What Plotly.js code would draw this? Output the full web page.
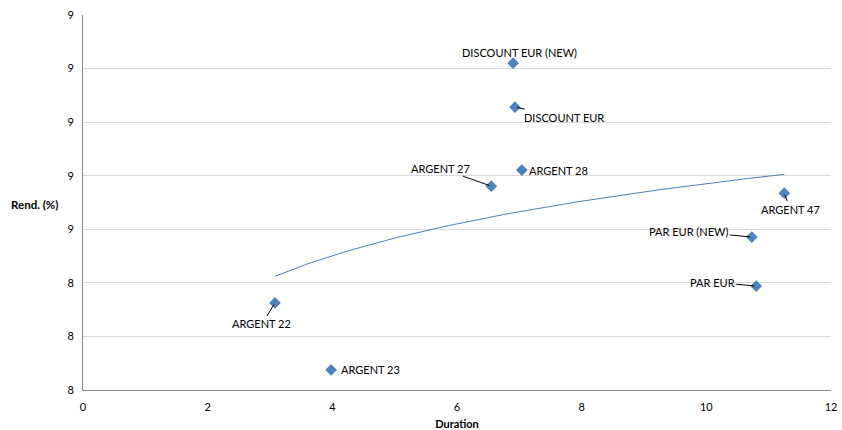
<!DOCTYPE html>
<html>
<head>
<meta charset="utf-8">
<script src="https://cdn.plot.ly/plotly-3.0.1.min.js"></script>
<style>html,body{margin:0;padding:0;background:#fff;}#chart{width:842px;height:430px;}</style>
</head>
<body>
<div id="chart"></div>
<script>
// Data
const names = ["DISCOUNT EUR (NEW)", "DISCOUNT EUR", "ARGENT 28", "ARGENT 27", "ARGENT 47", "PAR EUR (NEW)", "PAR EUR", "ARGENT 22", "ARGENT 23"];
const duration = [6.90, 6.93, 7.04, 6.55, 11.25, 10.73, 10.80, 3.08, 3.98];
const rend = [9.22, 9.056, 8.821, 8.761, 8.735, 8.571, 8.388, 8.325, 8.075];
// label offsets (pixels) and whether a leader line is drawn
const labelDx = [6, 49, 37, -51, 6, -63, -44, -13, 39];
const labelDy = [-11, 10, 0, -18, 16, -6, -4, 21, 0];
const leader = [false, true, false, true, true, true, true, true, false];

// Logarithmic trendline (least squares fit of rend on ln(duration))
const lx = duration.map(Math.log);
const n = lx.length;
const mx = lx.reduce((a, b) => a + b, 0) / n;
const my = rend.reduce((a, b) => a + b, 0) / n;
let sxy = 0, sxx = 0;
for (let i = 0; i < n; i++) { sxy += (lx[i] - mx) * (rend[i] - my); sxx += (lx[i] - mx) ** 2; }
const b = sxy / sxx, a = my - b * mx;
const xmin = Math.min(...duration), xmax = Math.max(...duration);
const tx = [], ty = [];
for (let k = 0; k <= 100; k++) { const x = xmin + (xmax - xmin) * k / 100; tx.push(x); ty.push(a + b * Math.log(x)); }

const font = {family: "Lato, 'Open Sans', sans-serif", size: 11, color: "#000"};
const annotations = names.map((t, i) => leader[i] ? {
  x: duration[i], y: rend[i], text: t, showarrow: true, arrowhead: 0, arrowwidth: 1,
  arrowcolor: "#000", ax: labelDx[i], ay: labelDy[i], standoff: 2, font: font
} : {
  x: duration[i], y: rend[i], text: t, showarrow: false, xshift: labelDx[i], yshift: -labelDy[i], font: font
});
annotations.push({xref: "paper", yref: "paper", x: -0.031, y: 0.496, xanchor: "right", yanchor: "middle",
  text: "<b>Rend. (%)</b>", showarrow: false, font: {family: font.family, size: 11.5, color: "#000"}});

const traces = [
  {x: tx, y: ty, type: "scatter", mode: "lines", line: {color: "#4a7ebb", width: 1}, hoverinfo: "skip"},
  {x: duration, y: rend, type: "scatter", mode: "markers", text: names,
   marker: {symbol: "diamond", size: 9, color: "#4f81bd", line: {width: 0}}}
];

const layout = {
  width: 842, height: 430, showlegend: false,
  margin: {l: 83, r: 11, t: 15, b: 40},
  paper_bgcolor: "#fff", plot_bgcolor: "#fff",
  font: font,
  xaxis: {range: [0, 12], dtick: 2, tick0: 0, showgrid: false, zeroline: false,
    showline: true, linecolor: "#868686", linewidth: 1, ticks: "", tickfont: {family: font.family, size: 11},
    ticklabelstandoff: 7, automargin: false,
    title: {text: "<b>Duration</b>", font: {family: font.family, size: 11}, standoff: 9}},
  yaxis: {range: [8, 9.4], dtick: 0.2, tick0: 8, tickformat: ".0f", showgrid: true, gridcolor: "#d9d9d9",
    zeroline: false, showline: true, linecolor: "#868686", linewidth: 1, ticks: "",
    ticklabelstandoff: 6, automargin: false,
    tickfont: {family: font.family, size: 11}},
  annotations: annotations
};
Plotly.newPlot("chart", traces, layout, {displayModeBar: false, staticPlot: true});
</script>
</body>
</html>
